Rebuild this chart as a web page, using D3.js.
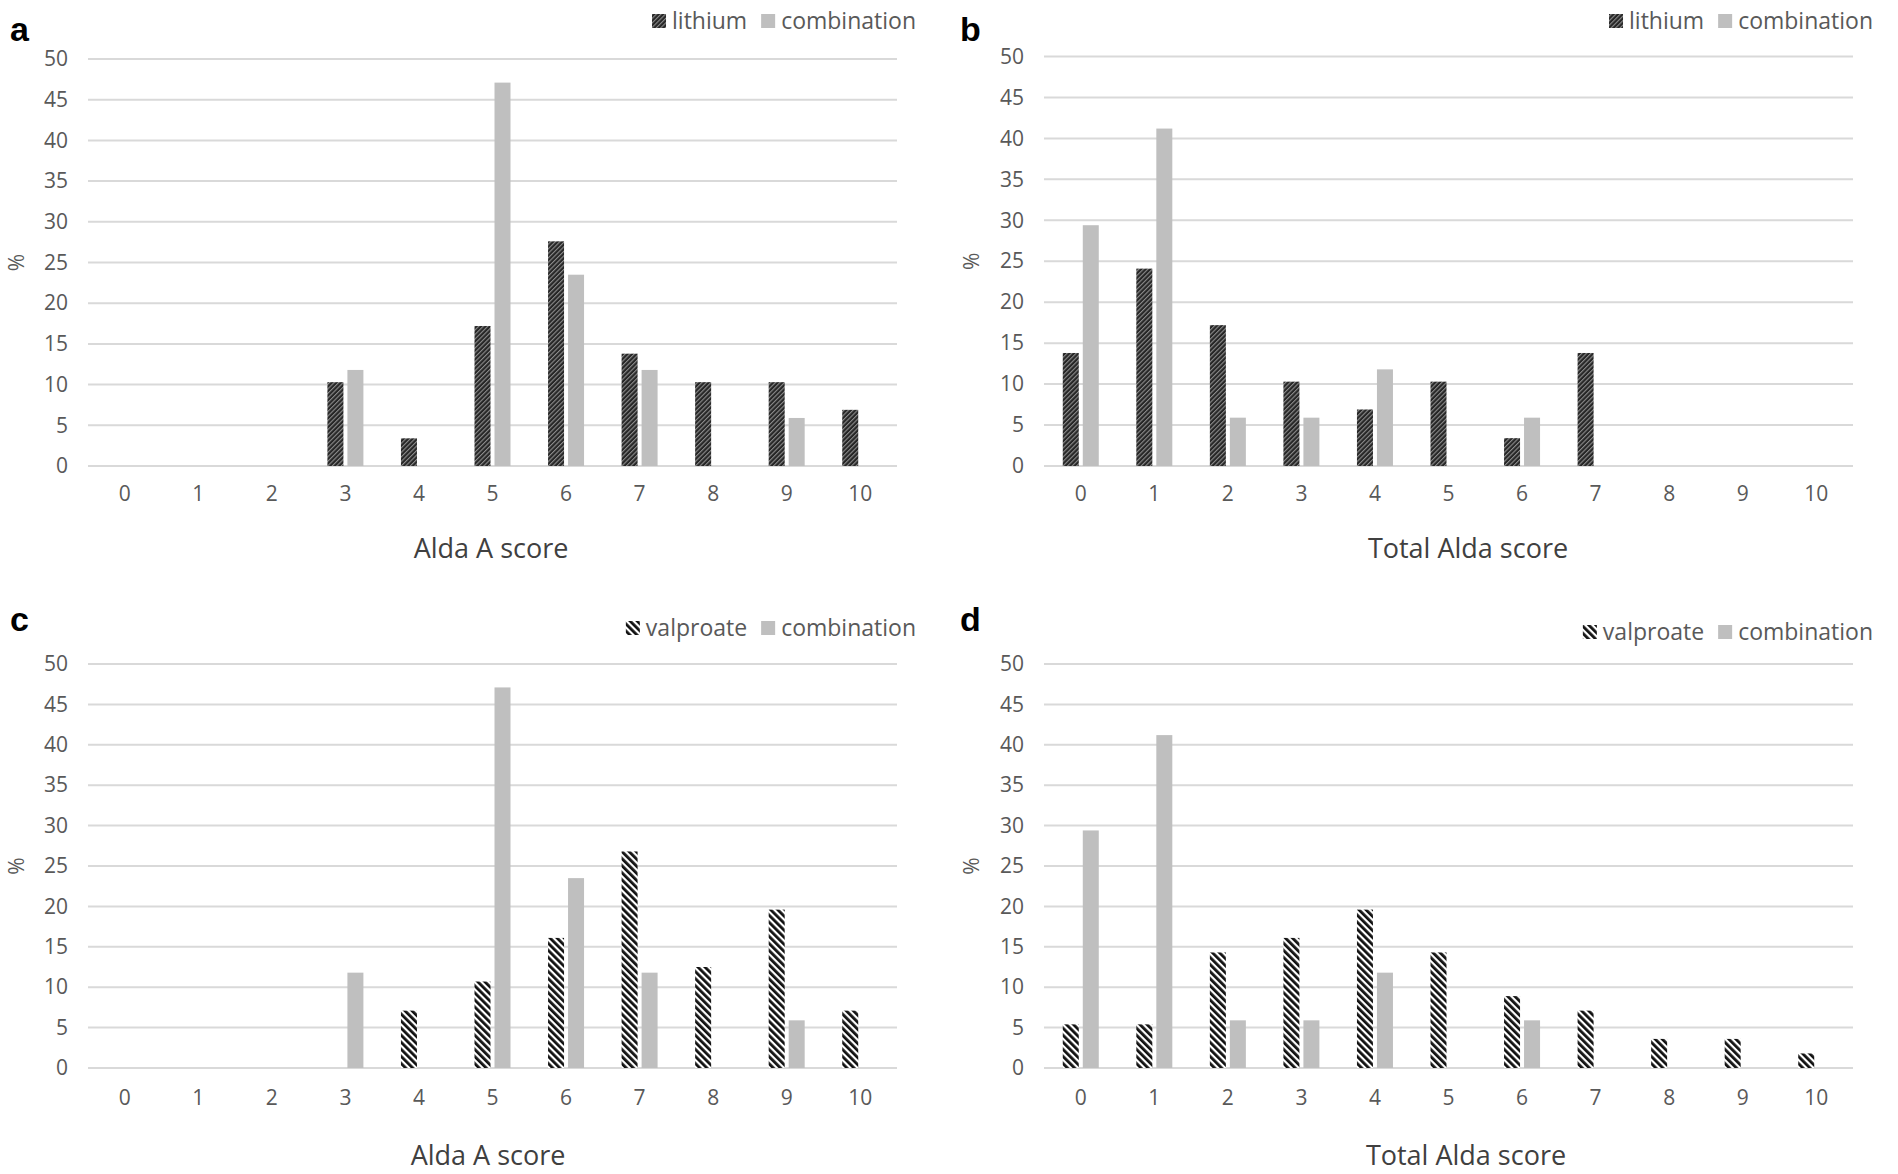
<!DOCTYPE html>
<html><head><meta charset="utf-8">
<script src="https://cdn.jsdelivr.net/npm/d3@7"></script>
<style>
html,body{margin:0;padding:0;background:#fff;}
svg text{font-family:"Open Sans","Noto Sans",sans-serif;}
</style></head>
<body>
<svg id="chart" width="1898" height="1174"></svg>
<script>
const categories = ["0","1","2","3","4","5","6","7","8","9","10"];
const yTicks = [0,5,10,15,20,25,30,35,40,45,50];

const lithiumAldaA      = [0,0,0,10.3,3.4,17.2,27.6,13.8,10.3,10.3,6.9];
const combinationAldaA  = [0,0,0,11.8,0,47.1,23.5,11.8,0,5.9,0];
const lithiumTotal      = [13.8,24.1,17.2,10.3,6.9,10.3,3.4,13.8,0,0,0];
const combinationTotal  = [29.4,41.2,5.9,5.9,11.8,0,5.9,0,0,0,0];
const valproateAldaA    = [0,0,0,0,7.1,10.7,16.1,26.8,12.5,19.6,7.1];
const valproateTotal    = [5.4,5.4,14.3,16.1,19.6,14.3,8.9,7.1,3.6,3.6,1.8];

const panels = [
  {letter:"a", s1:"lithium", v1:lithiumAldaA, v2:combinationAldaA, xTitle:"Alda A score",
   left:88, right:897, top:59, bottom:466, letterX:10, letterY:41, legY:21, legRight:916,
   tickY:500, titleY:548, titleX:491, yLabX:17},
  {letter:"b", s1:"lithium", v1:lithiumTotal, v2:combinationTotal, xTitle:"Total Alda score",
   left:1044, right:1853, top:56.5, bottom:466, letterX:960, letterY:41, legY:21, legRight:1873,
   tickY:500, titleY:548, titleX:1468, yLabX:972},
  {letter:"c", s1:"valproate", v1:valproateAldaA, v2:combinationAldaA, xTitle:"Alda A score",
   left:88, right:897, top:664, bottom:1068, letterX:10, letterY:631, legY:628, legRight:916,
   tickY:1104, titleY:1155, titleX:488, yLabX:17},
  {letter:"d", s1:"valproate", v1:valproateTotal, v2:combinationTotal, xTitle:"Total Alda score",
   left:1044, right:1853, top:664, bottom:1068, letterX:960, letterY:631, legY:632, legRight:1873,
   tickY:1104, titleY:1155, titleX:1466, yLabX:972}
];

const svg = d3.select("#chart");
const defs = svg.append("defs");
// lithium: dark "/" hatch with thin gray lines
const pl = defs.append("pattern").attr("id","hatch-lithium").attr("patternUnits","userSpaceOnUse")
  .attr("width",3.2).attr("height",3.2).attr("patternTransform","rotate(45)");
pl.append("rect").attr("width",3.2).attr("height",3.2).attr("fill","#262626");
pl.append("rect").attr("x",0).attr("width",1.1).attr("height",3.2).attr("fill","#8c8c8c");
// valproate: black/white "\" hatch
const pv = defs.append("pattern").attr("id","hatch-valproate").attr("patternUnits","userSpaceOnUse")
  .attr("width",5).attr("height",5).attr("patternTransform","rotate(-45)");
pv.append("rect").attr("width",5).attr("height",5).attr("fill","#ffffff");
pv.append("rect").attr("x",0).attr("width",2.8).attr("height",5).attr("fill","#111111");

const combColor = "#bfbfbf";
const textColor = "#595959";
const tickFont = "21px";
const legFont = "23px";

panels.forEach(p => {
  const g = svg.append("g");
  const x0 = d3.scaleBand().domain(categories).range([p.left, p.right]).paddingInner(0).paddingOuter(0);
  const bw = x0.bandwidth();
  const x1 = d3.scaleBand().domain(["s1","s2"]).range([bw/2-18, bw/2+18]).paddingInner(0.2).paddingOuter(0);
  const y = d3.scaleLinear().domain([0,50]).range([p.bottom, p.top]);

  // gridlines
  g.append("g").selectAll("line").data(yTicks).join("line")
    .attr("x1", p.left).attr("x2", p.right)
    .attr("y1", d => y(d)).attr("y2", d => y(d))
    .attr("stroke", "#d9d9d9").attr("stroke-width", 2);

  // y axis labels
  const yAxis = d3.axisLeft(y).tickValues(yTicks).tickSize(0).tickPadding(20);
  const ya = g.append("g").attr("transform", `translate(${p.left},0)`).call(yAxis);
  ya.select(".domain").remove();
  ya.selectAll("text").attr("fill", textColor).style("font-size",tickFont).style("font-family",'"Open Sans",sans-serif');

  // x axis labels
  const xAxis = d3.axisBottom(x0).tickSize(0).tickPadding(0);
  const xa = g.append("g").attr("transform", `translate(0,${p.tickY-14})`).call(xAxis);
  xa.select(".domain").remove();
  xa.selectAll("text").attr("fill", textColor).style("font-size",tickFont).style("font-family",'"Open Sans",sans-serif');

  // bars
  const rows = categories.map((c,i) => ({c, s1:p.v1[i], s2:p.v2[i]}));
  const fill1 = p.s1 === "lithium" ? "url(#hatch-lithium)" : "url(#hatch-valproate)";
  const cg = g.append("g").selectAll("g").data(rows).join("g")
    .attr("transform", d => `translate(${x0(d.c)},0)`);
  cg.selectAll("rect").data(d => [{k:"s1",v:d.s1},{k:"s2",v:d.s2}].filter(e => e.v > 0)).join("rect")
    .attr("x", e => x1(e.k)).attr("width", x1.bandwidth())
    .attr("y", e => y(e.v)).attr("height", e => y(0) - y(e.v))
    .attr("fill", e => e.k === "s1" ? fill1 : combColor);

  // axis titles
  g.append("text").attr("x", p.titleX).attr("y", p.titleY+10)
    .attr("text-anchor","middle").attr("fill","#404040").style("font-size","27px").text(p.xTitle);
  g.append("text").attr("transform", `translate(${p.yLabX+7},${(p.top+p.bottom)/2}) rotate(-90)`)
    .attr("text-anchor","middle").attr("fill",textColor).style("font-size","21px").text("%");

  // panel letter
  g.append("text").attr("x", p.letterX).attr("y", p.letterY)
    .style("font-family",'"Liberation Sans",Arial,sans-serif').style("font-weight","bold")
    .style("font-size","34px").attr("fill","#000").text(p.letter);

  // legend (anchored at right end)
  const lg = g.append("g");
  const t2 = lg.append("text").attr("text-anchor","end").attr("x",p.legRight).attr("y",p.legY+8)
    .attr("fill",textColor).style("font-size",legFont).text("combination");
  const w2 = t2.node().getComputedTextLength();
  const sw2 = p.legRight - w2 - 20;
  lg.append("rect").attr("x",sw2).attr("y",p.legY-7).attr("width",14).attr("height",14).attr("fill",combColor);
  const t1 = lg.append("text").attr("text-anchor","end").attr("x",sw2-14).attr("y",p.legY+8)
    .attr("fill",textColor).style("font-size",legFont).text(p.s1);
  const w1 = t1.node().getComputedTextLength();
  lg.append("rect").attr("x",sw2-14-w1-20).attr("y",p.legY-7).attr("width",14).attr("height",14).attr("fill",fill1);
});
</script>
</body></html>
